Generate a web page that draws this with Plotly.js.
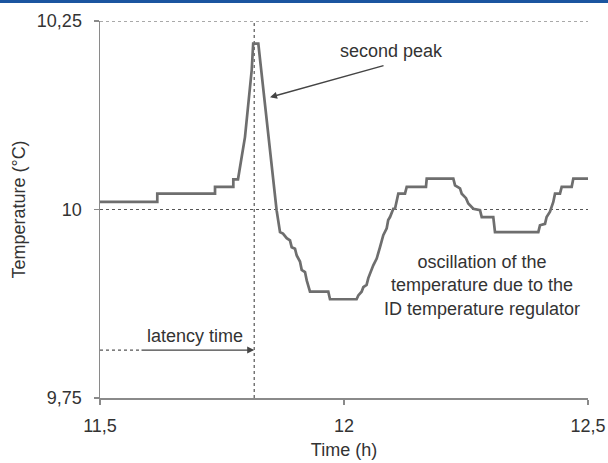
<!DOCTYPE html>
<html>
<head>
<meta charset="utf-8">
<script src="https://cdn.plot.ly/plotly-3.0.1.min.js"></script>
<style>
  html, body { margin: 0; padding: 0; background: #fff; }
  #chart { width: 608px; height: 463px; }
  #topbar { position: absolute; left: 0; top: 0; width: 608px; height: 3px; background: #1b55a0; z-index: 10; }
</style>
</head>
<body>
<div id="topbar"></div>
<div id="chart"></div>
<script>
// Time (h)
const time = [11.5, 11.6174, 11.6174, 11.7357, 11.7357, 11.7732, 11.7732, 11.7828, 11.7904, 11.7971, 11.8109, 11.8139, 11.8244,
  11.8619, 11.8689, 11.875, 11.8826, 11.8893, 11.8928, 11.8996, 11.9031, 11.9098, 11.9133, 11.9201, 11.9236, 11.9303,
  11.9678, 11.9713, 12.0258, 12.0293, 12.0361, 12.0396, 12.0463, 12.0498, 12.0600, 12.0670, 12.0738, 12.0805, 12.0875,
  12.0906, 12.0943, 12.1010, 12.1045, 12.1113, 12.1250, 12.1285, 12.1680, 12.1695, 12.2240, 12.2275, 12.2377, 12.2412,
  12.2500, 12.2547, 12.2650, 12.2787, 12.2822, 12.3059, 12.3094, 12.3982, 12.4016, 12.4119, 12.4152, 12.4221, 12.4289,
  12.4324, 12.4426, 12.4461, 12.4666, 12.4699, 12.5];
// Temperature (°C)
const temperature = [10.01, 10.01, 10.021, 10.021, 10.03, 10.03, 10.04, 10.04, 10.070, 10.096, 10.185, 10.220, 10.220,
  9.999, 9.970, 9.968, 9.962, 9.959, 9.950, 9.948, 9.939, 9.931, 9.920, 9.917, 9.906, 9.891,
  9.891, 9.881, 9.881, 9.886, 9.891, 9.897, 9.900, 9.909, 9.926, 9.935, 9.950, 9.966, 9.975,
  9.986, 9.990, 10.001, 10.001, 10.021, 10.021, 10.030, 10.030, 10.041, 10.041, 10.032, 10.028, 10.021,
  10.015, 10.008, 10.001, 9.999, 9.990, 9.990, 9.970, 9.970, 9.979, 9.981, 9.990, 9.997, 10.010,
  10.021, 10.021, 10.030, 10.030, 10.041, 10.041];

const xTickVals = [11.5, 12, 12.5];
const xTickText = ['11,5', '12', '12,5'];
const yTickVals = [9.75, 10, 10.25];
const yTickText = ['9,75', '10', '10,25'];

const latencyEnd = 11.816;    // time of the second peak (latency time)
const latencyLevel = 9.8135;  // level of the latency arrow
const latencyDotEnd = 11.582;
const arrowHeadTime = 11.8484;
const arrowHeadTemp = 10.1489;

const textColor = '#333333';
const gridColor = '#555555';
const axisColor = '#8a8a8a';
const font = 'Liberation Sans, Arial, sans-serif';
const fs = 18;

const trace = {
  x: time, y: temperature, type: 'scatter', mode: 'lines',
  line: { color: '#6e6e6e', width: 2.7 },
  hoverinfo: 'skip', showlegend: false
};

const layout = {
  width: 608, height: 463,
  margin: { l: 100, r: 20, t: 21, b: 65 },
  paper_bgcolor: '#ffffff', plot_bgcolor: '#ffffff',
  font: { family: font, size: fs, color: textColor },
  showlegend: false,
  xaxis: {
    range: [11.5, 12.5], tickvals: xTickVals, ticktext: xTickText,
    showgrid: false, zeroline: false, showline: true, linecolor: axisColor, linewidth: 1.5,
    ticks: 'outside', ticklen: 5, tickcolor: axisColor, tickwidth: 1.5,
    ticklabelstandoff: 6,
    tickfont: { family: font, size: fs, color: textColor },
    title: { text: 'Time (h)', font: { family: font, size: fs, color: textColor }, standoff: 8 }
  },
  yaxis: {
    range: [9.75, 10.25], tickvals: yTickVals, ticktext: yTickText,
    showgrid: false, zeroline: false, showline: true, linecolor: axisColor, linewidth: 1.5,
    ticks: 'outside', ticklen: 5, tickcolor: axisColor, tickwidth: 1.5,
    ticklabelstandoff: 8,
    tickfont: { family: font, size: fs, color: textColor },
    title: { text: 'Temperature (°C)', font: { family: font, size: fs, color: textColor }, standoff: 6 }
  },
  shapes: [
    { type: 'line', xref: 'x', yref: 'y', x0: 11.5, x1: 12.5, y0: 10, y1: 10,
      line: { color: gridColor, width: 1.2, dash: 'dot' }, layer: 'below' },
    { type: 'line', xref: 'x', yref: 'y', x0: 11.5, x1: 12.5, y0: 10.25, y1: 10.25,
      line: { color: gridColor, width: 1.2, dash: 'dot' }, layer: 'below' },
    { type: 'line', xref: 'x', yref: 'y', x0: latencyEnd, x1: latencyEnd, y0: 9.75, y1: 10.25,
      line: { color: gridColor, width: 1.2, dash: 'dot' }, layer: 'below' },
    { type: 'line', xref: 'x', yref: 'y', x0: 11.5, x1: latencyDotEnd, y0: latencyLevel, y1: latencyLevel,
      line: { color: gridColor, width: 1.2, dash: 'dot' } }
  ],
  annotations: [
    { x: arrowHeadTime, y: arrowHeadTemp, xref: 'x', yref: 'y', ax: 115, ay: -32,
      text: '', showarrow: true, arrowhead: 2, arrowsize: 1, arrowwidth: 1.4, arrowcolor: '#444444', standoff: 0 },
    { x: 12.097, y: 10.210, xref: 'x', yref: 'y', text: 'second peak', showarrow: false,
      font: { family: font, size: fs, color: textColor }, xanchor: 'center', yanchor: 'middle' },
    { x: latencyEnd, y: latencyLevel, xref: 'x', yref: 'y', ax: latencyDotEnd, ay: latencyLevel, axref: 'x', ayref: 'y',
      text: '', showarrow: true, arrowhead: 2, arrowsize: 1, arrowwidth: 1.4, arrowcolor: '#444444', standoff: 0 },
    { x: 11.6947, y: 9.832, xref: 'x', yref: 'y', text: 'latency time', showarrow: false,
      font: { family: font, size: fs, color: textColor }, xanchor: 'center', yanchor: 'middle' },
    { x: 12.283, y: 9.8997, xref: 'x', yref: 'y',
      text: 'oscillation of the<br>temperature due to the<br>ID temperature regulator', showarrow: false,
      align: 'center', font: { family: font, size: fs, color: textColor }, xanchor: 'center', yanchor: 'middle' }
  ]
};

Plotly.newPlot('chart', [trace], layout, { staticPlot: true, displayModeBar: false });
</script>
</body>
</html>
